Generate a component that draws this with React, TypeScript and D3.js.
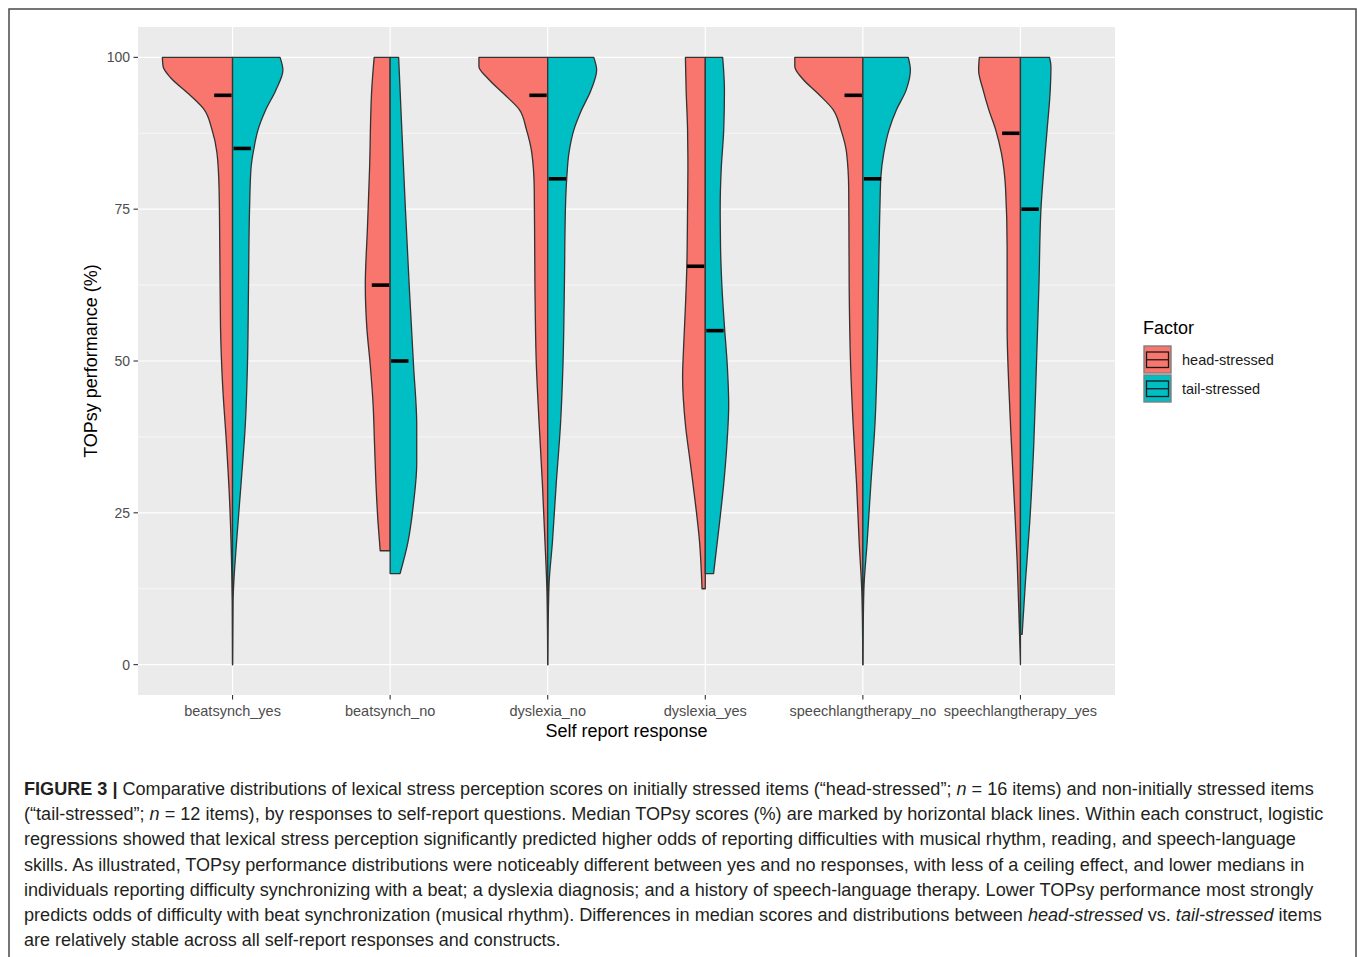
import React, { useLayoutEffect, useRef, useState } from "react";
import * as d3 from "d3";

// Self-report response categories
const categories = [
  "beatsynch_yes",
  "beatsynch_no",
  "dyslexia_no",
  "dyslexia_yes",
  "speechlangtherapy_no",
  "speechlangtherapy_yes",
];
const factors = ["head-stressed", "tail-stressed"];
const factorColors = ["#F8766D", "#00BFC4"];
const yTicks = [0, 25, 50, 75, 100];
const yMinor = [12.5, 37.5, 62.5, 87.5];

// Median TOPsy score (%) per category
const headMedians = [93.75, 62.5, 93.75, 65.6, 93.75, 87.5];
const tailMedians = [85, 50, 80, 55, 80, 75];

// Violin density profiles: [score %, relative density (0-100)]
const beatsynchYesHead = [
  [100, 99], [98.5, 98], [96.6, 87], [94, 62], [91.4, 40], [88.1, 29], [84.3, 22],
  [78.4, 19], [68.7, 18], [55.7, 17], [46, 14], [36.3, 8.5], [26.6, 4], [16.9, 1.4],
  [10.4, 0.4], [0, 0],
];
const beatsynchYesTail = [
  [100, 67], [97.9, 71], [94.6, 61], [91.4, 47], [88.1, 36], [84.9, 30], [81.7, 26],
  [75.2, 24], [62.2, 22.5], [49.3, 21], [39.5, 18], [29.8, 12], [20.1, 5.6], [13.6, 1.8],
  [10.4, 0.7], [0, 0],
];
const beatsynchNoHead = [
  [100, 22.5], [94.6, 26], [81.7, 29], [71.9, 32], [62.5, 35], [55.7, 33], [49.3, 28],
  [42.8, 24], [36.3, 22], [29.8, 20], [23.3, 17], [18.75, 14],
];
const beatsynchNoTail = [
  [100, 12], [88.1, 16.5], [75.2, 21.5], [62.2, 27], [49.3, 33], [39.5, 37.5],
  [33.1, 37.5], [26.6, 33], [20.1, 25], [15, 14],
];
const dyslexiaNoHead = [
  [100, 97], [98.5, 97], [96.6, 85], [94, 62], [91.4, 40], [88.1, 30], [84.3, 22.5],
  [78.4, 19], [62.2, 18], [49.3, 16], [39.5, 12], [29.8, 7.5], [20.1, 3.8], [11.7, 1],
  [0, 0],
];
const dyslexiaNoTail = [
  [100, 65], [97.9, 69], [94.6, 61], [91.4, 48], [88.1, 37], [84.3, 30], [80.4, 27],
  [75.2, 25], [62.2, 23.5], [49.3, 21.5], [39.5, 18], [29.8, 12], [20.1, 6.6], [13, 1.8],
  [0, 0],
];
const dyslexiaYesHead = [
  [100, 28], [94.6, 27], [88.1, 25], [81.7, 24.5], [75.2, 25], [65.7, 26], [59, 28],
  [52.5, 30.5], [47.3, 32], [39.5, 28], [33.1, 21], [26.6, 14], [20.1, 8], [12.5, 4.6],
];
const dyslexiaYesTail = [
  [100, 24.5], [94.6, 27], [88.1, 26], [81.7, 22.5], [75.2, 21], [68.7, 21.5],
  [62.2, 23.5], [55.7, 27], [49.3, 31], [42.8, 33], [36.3, 30.5], [29.8, 26],
  [23.3, 20], [15, 11.7],
];
const speechNoHead = [
  [100, 96], [98.5, 96], [96.6, 86], [94, 63], [91.4, 42], [88.1, 31], [84.3, 23],
  [78.4, 20], [62.2, 19.3], [49.3, 17.3], [39.5, 13.7], [29.8, 8.9], [20.1, 5.2],
  [11.7, 1.4], [0, 0],
];
const speechNoTail = [
  [100, 64], [97.9, 67], [94.6, 61], [91.4, 47.5], [88.1, 37], [84.3, 29.6], [80.4, 25.4],
  [75.2, 24], [62.2, 22], [49.3, 20], [39.5, 17], [29.8, 11.3], [20.1, 6], [12.3, 1.4],
  [0, 0],
];
const speechYesHead = [
  [100, 58], [97.9, 59], [94.6, 52.6], [91.4, 44.7], [88.1, 35], [84.3, 27], [78.4, 21],
  [68.7, 18.8], [55.7, 18.8], [46, 16.5], [36.3, 12.7], [26.6, 8.5], [16.9, 4.6],
  [7.1, 1.8], [0, 0],
];
const speechYesTail = [
  [100, 41], [98.5, 43], [94.6, 42], [88.1, 37.6], [81.7, 33], [75.2, 29], [62.2, 26],
  [49.3, 22.5], [36.3, 18.8], [23.3, 13], [13.6, 7], [5, 2.4],
];

const headProfiles = [beatsynchYesHead, beatsynchNoHead, dyslexiaNoHead, dyslexiaYesHead, speechNoHead, speechYesHead];
const tailProfiles = [beatsynchYesTail, beatsynchNoTail, dyslexiaNoTail, dyslexiaYesTail, speechNoTail, speechYesTail];

// caption lines; each part is [text, style] with style "b" bold, "i" italic, "" regular
const caption = [
  [["FIGURE 3 |", "b"], [" Comparative distributions of lexical stress perception scores on initially stressed items (“head-stressed”; ", ""], ["n", "i"], [" = 16 items) and non-initially stressed items", ""]],
  [["(“tail-stressed”; ", ""], ["n", "i"], [" = 12 items), by responses to self-report questions. Median TOPsy scores (%) are marked by horizontal black lines. Within each construct, logistic", ""]],
  [["regressions showed that lexical stress perception significantly predicted higher odds of reporting difficulties with musical rhythm, reading, and speech-language", ""]],
  [["skills. As illustrated, TOPsy performance distributions were noticeably different between yes and no responses, with less of a ceiling effect, and lower medians in", ""]],
  [["individuals reporting difficulty synchronizing with a beat; a dyslexia diagnosis; and a history of speech-language therapy. Lower TOPsy performance most strongly", ""]],
  [["predicts odds of difficulty with beat synchronization (musical rhythm). Differences in median scores and distributions between ", ""], ["head-stressed", "i"], [" vs. ", ""], ["tail-stressed", "i"], [" items", ""]],
  [["are relatively stable across all self-report responses and constructs.", ""]],
];
// right edge of each caption line in the reference
const captionRight = [1315, 1325, 1297, 1305, 1314, 1323, 561];

const App = () => {
  const width = 1358;
  const height = 957;
  const panel = { left: 138, right: 1115, top: 27, bottom: 695 };
  const capRefs = useRef([]);
  const [capScale, setCapScale] = useState(caption.map(() => 1));

  useLayoutEffect(() => {
    setCapScale(
      capRefs.current.map((el, i) => {
        const n = el ? el.getComputedTextLength() : 0;
        return n > 0 ? (captionRight[i] - 24) / n : 1;
      })
    );
  }, []);

  const x = d3.scalePoint().domain(categories).range([panel.left, panel.right]).padding(0.6);
  const y = d3.scaleLinear().domain([-5, 105]).range([panel.bottom, panel.top]);
  const w = d3.scaleLinear().domain([0, 100]).range([0, 0.45 * x.step()]);
  const medLen = 0.11 * x.step();

  const half = (cx, side) =>
    d3.area()
      .y((d) => y(d[0]))
      .x0(cx)
      .x1((d) => cx + side * w(d[1]))
      .curve(d3.curveMonotoneY);

  const tickColor = "#4D4D4D";
  const font = "'Liberation Sans', Arial, sans-serif";

  return (
    <div style={{ position: "absolute", left: 0, top: 0 }}>
      <svg width={width} height={height} style={{ display: "block" }} fontFamily={font}>
        <rect width={width} height={height} fill="#fff" />
        <rect x={9} y={9} width={1347} height={980} fill="none" stroke="#4a4a4a" strokeWidth={1.5} />

        {/* panel */}
        <rect x={panel.left} y={panel.top} width={panel.right - panel.left} height={panel.bottom - panel.top} fill="#EBEBEB" />
        {yMinor.map((t) => (
          <line key={"m" + t} x1={panel.left} x2={panel.right} y1={y(t)} y2={y(t)} stroke="#fff" strokeWidth={0.6} />
        ))}
        {yTicks.map((t) => (
          <line key={"g" + t} x1={panel.left} x2={panel.right} y1={y(t)} y2={y(t)} stroke="#fff" strokeWidth={1.2} />
        ))}
        {categories.map((c) => (
          <line key={"v" + c} x1={x(c)} x2={x(c)} y1={panel.top} y2={panel.bottom} stroke="#fff" strokeWidth={1.2} />
        ))}

        {/* split violins */}
        {categories.map((c, i) => {
          const cx = x(c);
          return (
            <g key={c}>
              <path d={half(cx, -1)(headProfiles[i])} fill={factorColors[0]} stroke="#333" strokeWidth={1.3} strokeLinejoin="round" />
              <path d={half(cx, 1)(tailProfiles[i])} fill={factorColors[1]} stroke="#333" strokeWidth={1.3} strokeLinejoin="round" />
              <line x1={cx - 1 - medLen} x2={cx - 1} y1={y(headMedians[i])} y2={y(headMedians[i])} stroke="#000" strokeWidth={3.6} />
              <line x1={cx + 1} x2={cx + 1 + medLen} y1={y(tailMedians[i])} y2={y(tailMedians[i])} stroke="#000" strokeWidth={3.6} />
            </g>
          );
        })}

        {/* y axis */}
        {yTicks.map((t) => (
          <g key={"yt" + t}>
            <line x1={panel.left - 4.5} x2={panel.left} y1={y(t)} y2={y(t)} stroke="#333" strokeWidth={1.1} />
            <text x={panel.left - 8} y={y(t)} dy="0.35em" textAnchor="end" fontSize={14} fill={tickColor}>{t}</text>
          </g>
        ))}
        <text transform={`translate(97,${(panel.top + panel.bottom) / 2}) rotate(-90)`} textAnchor="middle" fontSize={18} fill="#000">
          TOPsy performance (%)
        </text>

        {/* x axis */}
        {categories.map((c) => (
          <g key={"xt" + c}>
            <line x1={x(c)} x2={x(c)} y1={panel.bottom} y2={panel.bottom + 4.5} stroke="#333" strokeWidth={1.1} />
            <text x={x(c)} y={panel.bottom + 21} textAnchor="middle" fontSize={14.5} fill={tickColor}>{c}</text>
          </g>
        ))}
        <text x={(panel.left + panel.right) / 2} y={737} textAnchor="middle" fontSize={18} fill="#000">
          Self report response
        </text>

        {/* legend */}
        <text x={1143} y={334} fontSize={18} fill="#000">Factor</text>
        {factors.map((f, i) => {
          const ky = 346 + i * 29;
          return (
            <g key={f}>
              <rect x={1144} y={ky} width={27} height={27} fill={factorColors[i]} stroke="#7f7f7f" strokeWidth={1.4} />
              <rect x={1146.5} y={ky + 6} width={22} height={15.5} fill="none" stroke="#1a1a1a" strokeWidth={1.3} />
              <line x1={1146.5} x2={1168.5} y1={ky + 13.75} y2={ky + 13.75} stroke="#1a1a1a" strokeWidth={1.3} />
              <text x={1182} y={ky + 14} dy="0.35em" fontSize={14.5} fill="#1a1a1a">{f}</text>
            </g>
          );
        })}

        {/* caption */}
        <g fontSize={18.5} fill="#231F20">
          {caption.map((parts, i) => (
            <text
              key={"cap" + i}
              ref={(el) => (capRefs.current[i] = el)}
              transform={`translate(24,${795 + i * 25.2}) scale(${capScale[i]},1)`}
            >
              {parts.map(([t, s], j) => (
                <tspan key={j} fontWeight={s === "b" ? "bold" : "normal"} fontStyle={s === "i" ? "italic" : "normal"}>
                  {t}
                </tspan>
              ))}
            </text>
          ))}
        </g>
      </svg>
    </div>
  );
};

export default App;
